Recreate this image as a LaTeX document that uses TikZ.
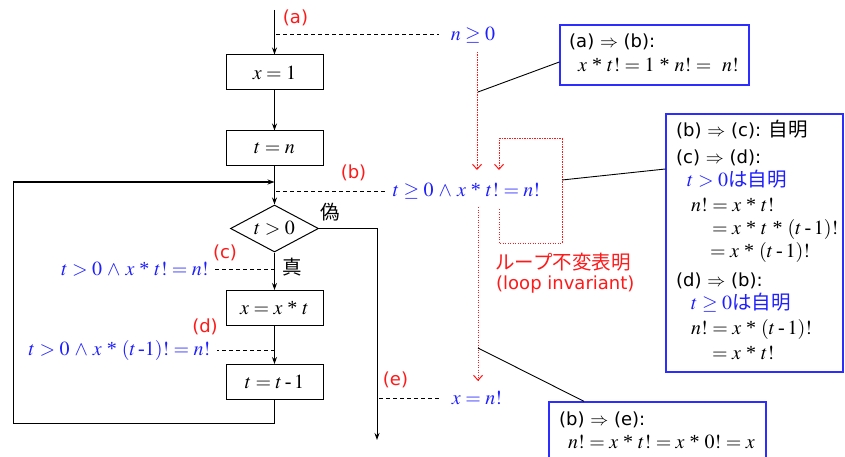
\documentclass[tikz,border=0pt]{standalone}
\usepackage{mathptmx}
\usepackage[no-math]{fontspec}
\setmainfont{DejaVu Sans}
\newfontfamily\jpfont{Noto Sans CJK JP}
\newfontfamily\tmsfont{Liberation Serif}
\usetikzlibrary{arrows.meta,shapes.geometric}
\definecolor{fblue}{RGB}{30,30,255}
\definecolor{fred}{RGB}{255,25,25}
\definecolor{bblue}{RGB}{45,45,255}
\newcommand{\hy}{\mathbin{\mbox{\tmsfont -}}}
\newcommand{\st}{\mathbin{\mkern2mu\mbox{\tmsfont *}\mkern2mu}}
\newcommand{\aand}{\mathbin{\mkern2mu\wedge\mkern2mu}}
\newcommand{\msz}{\fontsize{20}{24}\selectfont}
\newcommand{\ssz}{\fontsize{18}{22}\selectfont}
\newcommand{\jsz}{\fontsize{19.5}{23}\selectfont}
\tikzset{
 box/.style={draw, line width=1pt, minimum width=97pt, minimum height=35pt, inner sep=0pt, font=\msz},
 dia/.style={draw, diamond, line width=1pt, aspect=1.87, minimum width=88pt, minimum height=47pt, inner sep=0pt, font=\msz},
 flow/.style={line width=1pt, -{Stealth[length=7pt,width=5pt]}},
 dashln/.style={line width=1pt, dash pattern=on 4pt off 3pt},
 rdot/.style={fred, line width=1pt, dash pattern=on 1.1pt off 1.4pt},
 rdotarr/.style={rdot, -{Straight Barb[length=5pt,width=9pt]}},
 lbl/.style={text=fred, font=\ssz, inner sep=0pt},
 ann/.style={text=fblue, font=\msz, inner sep=0pt},
 jp/.style={font=\jsz\jpfont, inner sep=0pt},
 cbox/.style={draw=bblue, line width=1.3pt, inner sep=0pt},
 ln/.style={anchor=west, inner sep=0pt, text height=12pt, text depth=4pt, font=\msz},
 sln/.style={ln, font=\ssz},
 call/.style={line width=0.9pt},
}
\begin{document}
\begin{tikzpicture}[x=1pt,y=-1pt]
\useasboundingbox (0,0) rectangle (845,457);
\fill[white] (0,0) rectangle (845,457);

% ---------- flowchart ----------
\coordinate (top) at (274.5,10);
\node[box] (b1) at (274.5,72.5) {$x = 1$};
\node[box] (b2) at (274.5,148.5) {$t = n$};
\node[dia] (dia) at (274.5,228.5) {$t > 0$};
\node[box] (b3) at (274.5,308) {$x = x \st t$};
\node[box] (b4) at (274.5,382) {$t = t \hy 1$};

\draw[flow] (top) -- (b1);
\draw[flow] (b1) -- (b2);
\draw[flow] (b2) -- (dia);
\draw[flow] (dia) -- (b3);
\draw[flow] (b3) -- (b4);

\coordinate (lp1) at (274.5,423);
\coordinate (lp2) at (13,423);
\coordinate (lp3) at (13,182);
\coordinate (lp4) at (274.5,182);
\draw[flow] (b4.south) -- (lp1) -- (lp2) -- (lp3) -- (lp4);

\coordinate (ex1) at (377,228.5);
\coordinate (ex2) at (377,440);
\draw[flow] (dia.east) -- (ex1) -- (ex2);

\node[jp] (fal) at (330,212) {偽};
\node[jp] (tru) at (292,267) {真};

% ---------- labels ----------
\node[lbl] (la) at (295.5,18) {(a)};
\node[lbl] (lb) at (353.5,173) {(b)};
\node[lbl] (lc) at (225,253) {(c)};
\node[lbl] (ld) at (205,327) {(d)};
\node[lbl] (le) at (395.5,380) {(e)};

% ---------- assertions ----------
\node[ann] (na) at (473,35) {$n \geq 0$};
\node[ann] (nb) at (466.5,191) {$t \geq 0 \aand x \st t! = n!$};
\node[ann] (nc) at (135,269) {$t > 0 \aand x \st t! = n!$};
\node[ann] (nd) at (119.5,350) {$t > 0 \aand x \st (t\,\mbox{\tmsfont -}1)! = n!$};
\node[ann] (ne) at (477,398) {$x = n!$};

\coordinate (da) at (276,35);
\coordinate (db) at (276,191);
\coordinate (dc) at (274.5,269);
\coordinate (dd) at (274.5,350);
\coordinate (de) at (379,398);
\draw[dashln] (da) -- ([xshift=-12pt]na.west);
\draw[dashln] (db) -- ([xshift=-7pt]nb.west);
\draw[dashln] (dc) -- ([xshift=6pt]nc.east);
\draw[dashln] (dd) -- ([xshift=6pt]nd.east);
\draw[dashln] (de) -- ([xshift=-12pt]ne.west);

% ---------- red dotted flow of invariant ----------
\coordinate (r1) at (477,52);
\coordinate (r2) at (477,170);
\draw[rdotarr] (r1) -- (r2);
\coordinate (q1) at (499,209);
\coordinate (q2) at (499,243);
\coordinate (q3) at (562,243);
\coordinate (q4) at (562,139);
\coordinate (q5) at (499,139);
\coordinate (q6) at (499,170);
\draw[rdotarr] (q1) -- (q2) -- (q3) -- (q4) -- (q5) -- (q6);
\coordinate (s1) at (478,207);
\coordinate (s2) at (478,381);
\draw[rdotarr] (s1) -- (s2);

\node[jp, text=fred, anchor=west] (inv1) at (495,262) {ループ不変表明};
\node[sln, text=fred] (inv2) at (496,285) {(loop invariant)};

% ---------- callout A ----------
\node[cbox, minimum width=189pt, minimum height=60pt] (bA) at (654.5,55) {};
\node[sln] (a1) at (569,44) {(a) $\Rightarrow$ (b):};
\node[ln] (a2) at (578,68) {$x \st t! = 1 \st n! = \ n!$};
\coordinate (cA) at (478,92);
\draw[call] (cA) -- ([yshift=-7pt]bA.west);

% ---------- callout B ----------
\node[cbox, minimum width=177pt, minimum height=258pt] (bB) at (754.5,243) {};
\node[sln] (l1) at (676,133) {(b) $\Rightarrow$ (c): {\jpfont\jsz 自明}};
\node[sln] (l2) at (676,160) {(c) $\Rightarrow$ (d):};
\node[ln, text=fblue] (l3) at (687,182) {$t > 0${\jpfont\jsz は自明}};
\node[ln] (l4) at (691,207) {$n! = x \st t!$};
\node[ln] (l5) at (712,230) {$= x \st t \st (t \hy 1)!$};
\node[ln] (l6) at (710,253) {$= x \st (t \hy 1)!$};
\node[sln] (l7) at (676,282) {(d) $\Rightarrow$ (b):};
\node[ln, text=fblue] (l8) at (691,305) {$t \geq 0${\jpfont\jsz は自明}};
\node[ln] (l9) at (691,330) {$n! = x \st (t \hy 1)!$};
\node[ln] (l10) at (712,355) {$= x \st t!$};
\coordinate (cB) at (562,180);
\draw[call] (cB) -- ([yshift=74pt]bB.west);

% ---------- callout C ----------
\node[cbox, minimum width=217pt, minimum height=68pt] (bC) at (657.5,436) {};
\node[sln] (c1) at (559,421) {(b) $\Rightarrow$ (e):};
\node[ln] (c2) at (568,444) {$n! = x \st t! = x \st 0! = x$};
\coordinate (cC) at (478,348);
\draw[call] (cC) -- ([xshift=-73.5pt]bC.north);
\end{tikzpicture}
\end{document}
